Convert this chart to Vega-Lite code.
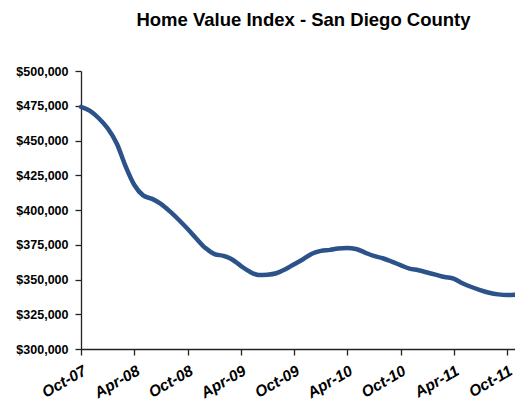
{
  "$schema": "https://vega.github.io/schema/vega-lite/v6.json",
  "autosize": {"type": "none"},
  "width": 435,
  "height": 278,
  "padding": {"left": 81, "top": 71, "right": 0, "bottom": 55},
  "background": "white",
  "title": {
    "text": "Home Value Index - San Diego County",
    "font": "Liberation Sans",
    "fontSize": 18.5,
    "fontWeight": "bold",
    "color": "#000000",
    "anchor": "middle",
    "dx": 5,
    "baseline": "alphabetic",
    "offset": 21
  },
  "config": {
    "view": {"stroke": null},
    "axis": {"grid": false, "domainColor": "#222222", "tickColor": "#222222", "domainWidth": 1.3, "tickWidth": 1.3}
  },
  "data": {
    "values": [
      {"date": "2007-10-01", "value": 474200},
      {"date": "2007-11-01", "value": 471300},
      {"date": "2007-12-01", "value": 466000},
      {"date": "2008-01-01", "value": 458600},
      {"date": "2008-02-01", "value": 447700},
      {"date": "2008-03-01", "value": 432000},
      {"date": "2008-04-01", "value": 418000},
      {"date": "2008-05-01", "value": 410500},
      {"date": "2008-06-01", "value": 408000},
      {"date": "2008-07-01", "value": 404400},
      {"date": "2008-08-01", "value": 399000},
      {"date": "2008-09-01", "value": 392800},
      {"date": "2008-10-01", "value": 386300},
      {"date": "2008-11-01", "value": 379100},
      {"date": "2008-12-01", "value": 372600},
      {"date": "2009-01-01", "value": 368300},
      {"date": "2009-02-01", "value": 367000},
      {"date": "2009-03-01", "value": 364600},
      {"date": "2009-04-01", "value": 359800},
      {"date": "2009-05-01", "value": 355700},
      {"date": "2009-06-01", "value": 353300},
      {"date": "2009-07-01", "value": 353500},
      {"date": "2009-08-01", "value": 354500},
      {"date": "2009-09-01", "value": 357400},
      {"date": "2009-10-01", "value": 361000},
      {"date": "2009-11-01", "value": 364600},
      {"date": "2009-12-01", "value": 368500},
      {"date": "2010-01-01", "value": 370600},
      {"date": "2010-02-01", "value": 371300},
      {"date": "2010-03-01", "value": 372300},
      {"date": "2010-04-01", "value": 372600},
      {"date": "2010-05-01", "value": 372000},
      {"date": "2010-06-01", "value": 369400},
      {"date": "2010-07-01", "value": 367000},
      {"date": "2010-08-01", "value": 365300},
      {"date": "2010-09-01", "value": 362900},
      {"date": "2010-10-01", "value": 360300},
      {"date": "2010-11-01", "value": 357800},
      {"date": "2010-12-01", "value": 356700},
      {"date": "2011-01-01", "value": 355000},
      {"date": "2011-02-01", "value": 353300},
      {"date": "2011-03-01", "value": 351800},
      {"date": "2011-04-01", "value": 350600},
      {"date": "2011-05-01", "value": 347300},
      {"date": "2011-06-01", "value": 344600},
      {"date": "2011-07-01", "value": 342400},
      {"date": "2011-08-01", "value": 340500},
      {"date": "2011-09-01", "value": 339300},
      {"date": "2011-10-01", "value": 338800},
      {"date": "2011-11-01", "value": 339000}
    ]
  },
  "mark": {"type": "line", "color": "#2B5289", "strokeWidth": 4.5, "interpolate": "monotone", "strokeCap": "round", "strokeJoin": "round", "clip": false},
  "encoding": {
    "x": {
      "field": "date",
      "type": "temporal",
      "scale": {
        "type": "utc",
        "domain": [
          {"year": 2007, "month": 10, "date": 1, "utc": true},
          {"year": 2011, "month": 11, "date": 1, "utc": true}
        ],
        "nice": false
      },
      "axis": {
        "title": null,
        "values": [
          {"year": 2007, "month": 10, "date": 1, "utc": true},
          {"year": 2008, "month": 4, "date": 1, "utc": true},
          {"year": 2008, "month": 10, "date": 1, "utc": true},
          {"year": 2009, "month": 4, "date": 1, "utc": true},
          {"year": 2009, "month": 10, "date": 1, "utc": true},
          {"year": 2010, "month": 4, "date": 1, "utc": true},
          {"year": 2010, "month": 10, "date": 1, "utc": true},
          {"year": 2011, "month": 4, "date": 1, "utc": true},
          {"year": 2011, "month": 10, "date": 1, "utc": true}
        ],
        "labelExpr": "utcFormat(datum.value, '%b-%y')",
        "labelAngle": -30,
        "labelAlign": "right",
        "labelBaseline": "top",
        "labelFont": "Liberation Sans",
        "labelFontSize": 15.5,
        "labelFontWeight": "bold",
        "labelFontStyle": "italic",
        "labelColor": "#000000",
        "labelPadding": 8,
        "labelDx": 5,
        "labelOverlap": false,
        "labelFlush": false,
        "tickSize": 6
      }
    },
    "y": {
      "field": "value",
      "type": "quantitative",
      "scale": {"domain": [300000, 500000], "nice": false, "zero": false},
      "axis": {
        "title": null,
        "values": [300000, 325000, 350000, 375000, 400000, 425000, 450000, 475000, 500000],
        "format": "$,.0f",
        "labelFont": "Liberation Sans",
        "labelFontSize": 12.5,
        "labelFontWeight": "bold",
        "labelColor": "#000000",
        "labelPadding": 7,
        "tickSize": 6
      }
    }
  }
}
